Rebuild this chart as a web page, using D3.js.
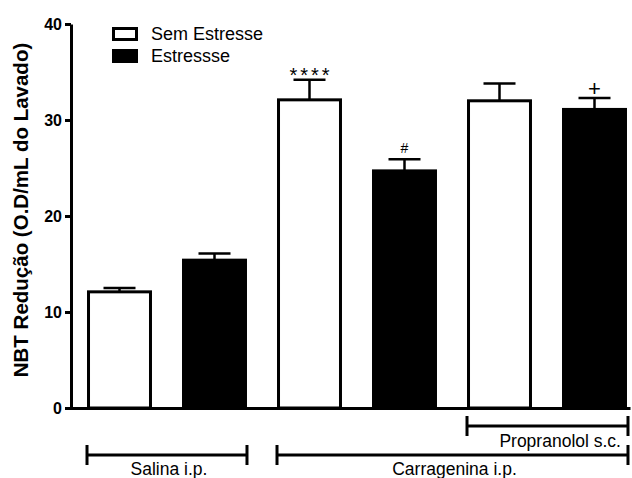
<!DOCTYPE html>
<html>
<head>
<meta charset="utf-8">
<script src="https://cdn.jsdelivr.net/npm/d3@7"></script>
<style>
  body { margin: 0; background: #fff; }
  svg { display: block; }
  text { font-family: Arial, "Liberation Sans", Helvetica, sans-serif; fill: #000; }
</style>
</head>
<body>
<div id="wrapper"></div>
<script>
// Data
const treatments = ["Salina i.p.", "Carragenina i.p.", "Carragenina + Propranolol"];
const series = ["Sem Estresse", "Estressse"];
const semEstresse = [12.1, 32.1, 32.0];
const semEstresseErr = [0.4, 2.1, 1.8];
const estresse = [15.4, 24.7, 31.1];
const estresseErr = [0.7, 1.2, 1.2];
const semEstresseMarks = ["", "****", ""];
const estresseMarks = ["", "#", "+"];
const yTicks = [0, 10, 20, 30, 40];
// group brackets under the axis: label, first bar, last bar, row
const brackets = [
  ["Salina i.p.", 0, 1, 1],
  ["Carragenina i.p.", 2, 5, 1],
  ["Propranolol s.c.", 4, 5, 0]
];

const width = 632, height = 478;
const fills = ["#fff", "#000"];

// one row per bar, in drawing order
const bars = [];
treatments.forEach((t, i) => {
  bars.push({key: t + "|0", s: 0, v: semEstresse[i], e: semEstresseErr[i], mark: semEstresseMarks[i]});
  bars.push({key: t + "|1", s: 1, v: estresse[i], e: estresseErr[i], mark: estresseMarks[i]});
});

const svg = d3.select("#wrapper").append("svg")
  .attr("width", width)
  .attr("height", height);

const x = d3.scaleBand()
  .domain(bars.map(d => d.key))
  .range([72, 642])
  .paddingInner(0.316)
  .paddingOuter(0.158);

const y = d3.scaleLinear().domain([0, 40]).range([408, 24]);

// bars
svg.append("g").selectAll("rect")
  .data(bars)
  .join("rect")
  .attr("x", d => x(d.key) + 1.5)
  .attr("y", d => y(d.v))
  .attr("width", x.bandwidth() - 3)
  .attr("height", d => y(0) - y(d.v))
  .attr("fill", d => fills[d.s])
  .attr("stroke", "#000")
  .attr("stroke-width", 3);

// error bars (upper only)
const err = svg.append("g").attr("stroke", "#000").attr("stroke-width", 2.5);
err.selectAll("line.v")
  .data(bars)
  .join("line")
  .attr("class", "v")
  .attr("x1", d => x(d.key) + x.bandwidth() / 2)
  .attr("x2", d => x(d.key) + x.bandwidth() / 2)
  .attr("y1", d => y(d.v))
  .attr("y2", d => y(d.v + d.e));
err.selectAll("line.c")
  .data(bars)
  .join("line")
  .attr("class", "c")
  .attr("x1", d => x(d.key) + x.bandwidth() / 2 - 16)
  .attr("x2", d => x(d.key) + x.bandwidth() / 2 + 16)
  .attr("y1", d => y(d.v + d.e))
  .attr("y2", d => y(d.v + d.e));

// significance marks
const markSize = {"****": 20, "#": 14, "+": 22};
const markGap = {"****": -2, "#": 6, "+": 2};
svg.append("g").selectAll("text")
  .data(bars.filter(d => d.mark))
  .join("text")
  .attr("x", d => x(d.key) + x.bandwidth() / 2 + (d.mark === "****" ? 1.5 : 0))
  .attr("y", d => y(d.v + d.e) - markGap[d.mark])
  .attr("text-anchor", "middle")
  .attr("font-size", d => markSize[d.mark])
  .attr("letter-spacing", d => d.mark === "****" ? 3 : 0)
  .text(d => d.mark);

// y axis
const yAxis = svg.append("g")
  .attr("transform", "translate(71,0)")
  .call(d3.axisLeft(y).tickValues(yTicks).tickSize(6).tickPadding(3).tickSizeOuter(0));
yAxis.select(".domain").attr("stroke-width", 3);
yAxis.selectAll(".tick line").attr("stroke-width", 3);
yAxis.selectAll(".tick text")
  .attr("font-size", 16)
  .attr("font-weight", "bold")
  .attr("font-family", "Arial, 'Liberation Sans', sans-serif");

// x axis line (no ticks)
const xLine = d3.scaleLinear().range([70, 630]);
const xAxis = svg.append("g")
  .attr("transform", "translate(0," + y(0) + ")")
  .call(d3.axisBottom(xLine).tickValues([]).tickSizeOuter(0));
xAxis.select(".domain").attr("stroke-width", 3);

// y axis title
svg.append("text")
  .attr("transform", "translate(28," + 210 + ") rotate(-90)")
  .attr("text-anchor", "middle")
  .attr("font-size", 20.5)
  .attr("font-weight", "bold")
  .text("NBT Redução (O.D/mL do Lavado)");

// legend
const legend = svg.append("g").attr("transform", "translate(112,27)");
const li = legend.selectAll("g")
  .data(series)
  .join("g")
  .attr("transform", (d, i) => "translate(0," + (i * 22) + ")");
li.append("rect")
  .attr("x", 1.5).attr("y", 1.5)
  .attr("width", 23).attr("height", 11)
  .attr("fill", (d, i) => fills[i])
  .attr("stroke", "#000")
  .attr("stroke-width", 3);
li.append("text")
  .attr("x", 39)
  .attr("y", 13)
  .attr("font-size", 18)
  .text(d => d);

// group brackets
const rowY = [426, 455];
const labelY = [447, 475];
const br = svg.append("g").selectAll("g")
  .data(brackets)
  .join("g");
const bx0 = d => x(bars[d[1]].key);
const bx1 = d => x(bars[d[2]].key) + x.bandwidth() + (d[2] === bars.length - 1 ? 1 : 0);
br.append("path")
  .attr("fill", "none")
  .attr("stroke", "#000")
  .attr("stroke-width", 3)
  .attr("d", d => {
    const yy = rowY[d[3]], a = bx0(d), b = bx1(d);
    return `M${a},${yy - 10}V${yy + 10}M${a},${yy}H${b}M${b},${yy - 10}V${yy + 10}`;
  });
br.append("text")
  .attr("x", d => d[3] === 0 ? bx1(d) - 7 : (bx0(d) + bx1(d)) / 2 + 2)
  .attr("y", d => labelY[d[3]])
  .attr("text-anchor", d => d[3] === 0 ? "end" : "middle")
  .attr("font-size", 17.5)
  .text(d => d[0]);
</script>
</body>
</html>
